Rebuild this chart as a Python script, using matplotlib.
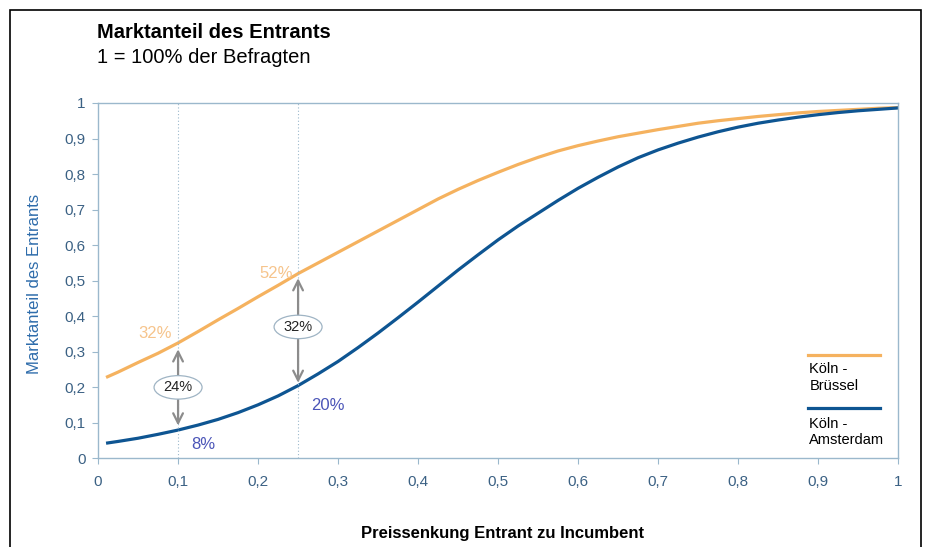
import matplotlib.pyplot as plt
from matplotlib.patches import Ellipse, Rectangle

plt.rcParams['font.family'] = ['Liberation Sans', 'DejaVu Sans']

# Preissenkung (x) und Marktanteil je Strecke
preis = [0.01, 0.025, 0.05, 0.075, 0.1, 0.125, 0.15, 0.175, 0.2, 0.225, 0.25,
         0.275, 0.3, 0.325, 0.35, 0.375, 0.4, 0.425, 0.45, 0.475, 0.5,
         0.525, 0.55, 0.575, 0.6, 0.625, 0.65, 0.675, 0.7, 0.725, 0.75,
         0.775, 0.8, 0.825, 0.85, 0.875, 0.9, 0.925, 0.95, 0.975, 1.0]
bruessel = [0.228, 0.243, 0.27, 0.296, 0.325, 0.357, 0.39, 0.422, 0.455, 0.487, 0.52,
            0.55, 0.58, 0.61, 0.64, 0.67, 0.70, 0.73, 0.757, 0.782, 0.805,
            0.827, 0.847, 0.865, 0.88, 0.893, 0.905, 0.915, 0.925, 0.934, 0.943,
            0.95, 0.956, 0.962, 0.967, 0.972, 0.976, 0.979, 0.982, 0.985, 0.987]
amsterdam = [0.043, 0.048, 0.057, 0.068, 0.08, 0.094, 0.11, 0.129, 0.151, 0.176, 0.205,
             0.238, 0.273, 0.312, 0.353, 0.396, 0.44, 0.485, 0.53, 0.573, 0.615,
             0.654, 0.69, 0.726, 0.76, 0.791, 0.82, 0.846, 0.868, 0.887, 0.904,
             0.919, 0.932, 0.943, 0.952, 0.96, 0.967, 0.973, 0.978, 0.982, 0.986]

# markierte Stellen: x, Wert Brüssel, Wert Amsterdam, Differenz, Höhe der Ellipse
marks_x = [0.1, 0.25]
marks_b = [0.32, 0.52]
marks_a = [0.08, 0.20]
marks_diff = ["24%", "32%"]
marks_lbl_y = [0.2, 0.37]

orange = "#f5b25f"
blue = "#0e5592"
axis_col = "#9bb8cc"
tick_col = "#3b6184"

fig = plt.figure(figsize=(9.25, 5.47), dpi=100)
fig.patches.append(Rectangle((0.0103, -0.02), 0.9849, 1.0017, transform=fig.transFigure,
                             fill=False, edgecolor="black", linewidth=1.2))
ax = fig.add_axes([0.106, 0.1618, 0.865, 0.650])

ax.plot(preis, bruessel, color=orange, linewidth=2.3, solid_capstyle="butt")
ax.plot(preis, amsterdam, color=blue, linewidth=2.3, solid_capstyle="butt")

for xm, yb, ya, d, ym in zip(marks_x, marks_b, marks_a, marks_diff, marks_lbl_y):
    ax.plot([xm, xm], [0, 1], color=axis_col, linestyle=(0, (1, 2)), linewidth=0.8)
    ax.annotate("", xy=(xm, yb - 0.005), xytext=(xm, ya + 0.005),
                arrowprops=dict(arrowstyle="<->,head_length=0.7,head_width=0.35",
                                color="#8c8c8c", linewidth=1.6))
    ax.add_patch(Ellipse((xm, ym), 0.06, 0.066, facecolor="white",
                         edgecolor="#9fb4c4", linewidth=0.9, zorder=3))
    ax.text(xm, ym, d, ha="center", va="center", fontsize=10.5, color="#222222", zorder=4)

# Wertbeschriftungen
ax.text(0.071, 0.352, "32%", color="#f6c48c", fontsize=12, ha="center", va="center")
ax.text(0.223, 0.52, "52%", color="#f6c48c", fontsize=12, ha="center", va="center")
ax.text(0.131, 0.04, "8%", color="#4b55b8", fontsize=12, ha="center", va="center")
ax.text(0.287, 0.15, "20%", color="#4b55b8", fontsize=12, ha="center", va="center")

# Legende mit Linie über dem Text
ax.plot([0.8875, 0.9775], [0.291, 0.291], color=orange, linewidth=2.3, transform=ax.transAxes)
ax.text(0.889, 0.27, "Köln -\nBrüssel", transform=ax.transAxes, fontsize=10.5,
        va="top", ha="left", linespacing=1.25)
ax.plot([0.8875, 0.9775], [0.142, 0.142], color=blue, linewidth=2.3, transform=ax.transAxes)
ax.text(0.889, 0.118, "Köln -\nAmsterdam", transform=ax.transAxes, fontsize=10.5,
        va="top", ha="left", linespacing=1.25)

ax.set_xlim(0, 1)
ax.set_ylim(0, 1)
ax.set_xticks([i / 10 for i in range(11)])
ax.set_yticks([i / 10 for i in range(11)])
ax.set_xticklabels(["0"] + ["0,%d" % i for i in range(1, 10)] + ["1"])
ax.set_yticklabels(["0"] + ["0,%d" % i for i in range(1, 10)] + ["1"])
ax.tick_params(axis="both", colors=axis_col, labelcolor=tick_col, labelsize=11, length=4)
ax.tick_params(axis="x", pad=8)
ax.tick_params(axis="y", pad=5)
for s in ax.spines.values():
    s.set_color(axis_col)
    s.set_linewidth(1.0)

ax.set_ylabel("Marktanteil des Entrants", color="#2e6cab", fontsize=12)
ax.yaxis.set_label_coords(-0.07, 0.49)
fig.text(0.543, 0.025, "Preissenkung Entrant zu Incumbent", ha="center", va="center",
         fontsize=12, fontweight="bold")

fig.text(0.105, 0.94, "Marktanteil des Entrants", fontsize=14.5, fontweight="bold",
         ha="left", va="center")
fig.text(0.105, 0.894, "1 = 100% der Befragten", fontsize=14.5, ha="left", va="center")

fig.savefig("out.png", dpi=100)
